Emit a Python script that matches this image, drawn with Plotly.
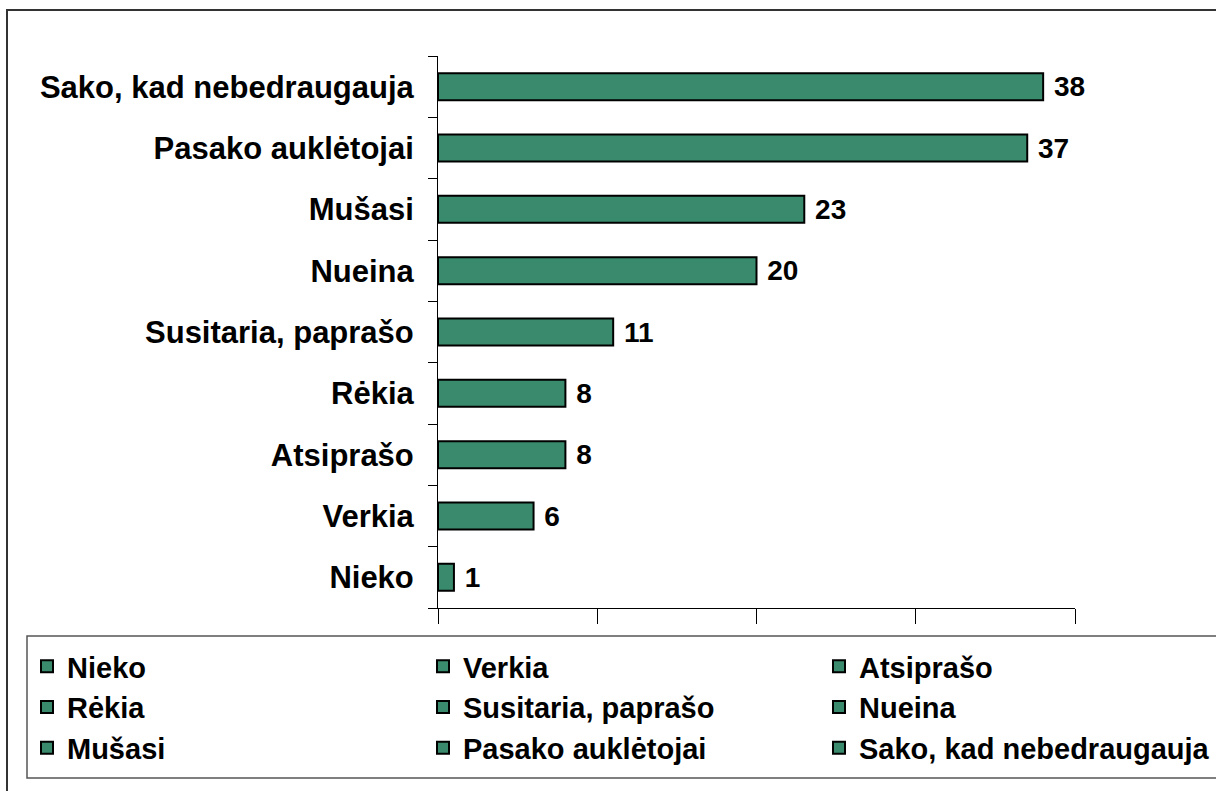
import plotly.graph_objects as go

categories = ["Nieko", "Verkia", "Atsiprašo", "Rėkia", "Susitaria, paprašo",
              "Nueina", "Mušasi", "Pasako auklėtojai", "Sako, kad nebedraugauja"]
values = [1, 6, 8, 8, 11, 20, 23, 37, 38]

BAR_COLOR = "#3a8b6d"
FAMILY = "Liberation Sans, Arial, sans-serif"
TICK_FONT = dict(family=FAMILY, size=31, color="black", weight="bold")
LABEL_FONT = dict(family=FAMILY, size=28, color="black", weight="bold")
LEG_FONT = dict(family=FAMILY, size=29, color="black", weight="bold")

W, H = 1216, 791
L, R, T, B = 438, 0, 56, 791 - 608
pw, ph = W - L - R, H - T - B
X_END = 1075  # right edge of the value axis, px

def px_x(p):
    return (p - L) / pw

def px_y(p):
    return (H - B - p) / ph

fig = go.Figure()
for cat, val in zip(categories, values):
    fig.add_trace(go.Bar(
        y=[cat], x=[val], orientation="h", name=cat,
        marker=dict(color=BAR_COLOR, line=dict(color="black", width=2)),
        text=[f" {val}"], textposition="outside", constraintext="none",
        textfont=LABEL_FONT, cliponaxis=False,
    ))

fig.update_layout(
    width=W, height=H,
    margin=dict(l=L, r=R, t=T, b=B, autoexpand=False),
    paper_bgcolor="white", plot_bgcolor="white",
    barmode="overlay", bargap=0.56,
    font=TICK_FONT,
    showlegend=True,
    legend=dict(
        orientation="h", x=px_x(27), xanchor="left", y=px_y(641), yanchor="top",
        entrywidth=351, entrywidthmode="pixels", font=LEG_FONT,
        bgcolor="rgba(0,0,0,0)", traceorder="normal",
    ),
    xaxis=dict(domain=[0, px_x(X_END)], range=[0, 40], dtick=10,
               showticklabels=False, showgrid=False,
               zeroline=False, showline=True, linecolor="black", linewidth=1,
               ticks="outside", ticklen=15, tickcolor="black"),
    yaxis=dict(categoryorder="array", categoryarray=categories, showgrid=False,
               showline=True, linecolor="black", linewidth=1,
               ticks="outside", tickson="boundaries", ticklen=9, tickcolor="black",
               ticklabelstandoff=17, tickfont=TICK_FONT),
    shapes=[
        dict(type="rect", xref="paper", yref="paper",
             x0=px_x(7), x1=px_x(1240), y0=px_y(10), y1=px_y(820),
             line=dict(color="#333", width=2), layer="below"),
        dict(type="rect", xref="paper", yref="paper",
             x0=px_x(27), x1=px_x(1240), y0=px_y(636), y1=px_y(778),
             line=dict(color="#555", width=1.5), layer="below"),
    ],
)

fig.write_html("out.html", config={"displayModeBar": False},
               post_script="document.body.style.margin='0';document.body.style.overflow='hidden';")
